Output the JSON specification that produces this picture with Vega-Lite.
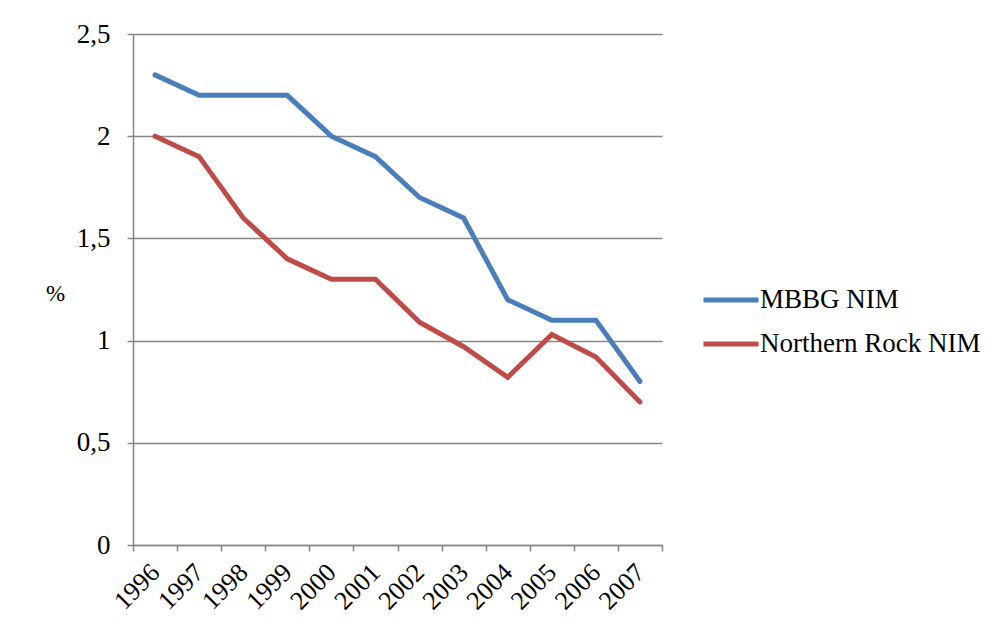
{
  "$schema": "https://vega.github.io/schema/vega-lite/v6.json",
  "width": 529,
  "height": 511,
  "autosize": {"type": "none"},
  "padding": {"left": 133, "top": 34, "right": 337, "bottom": 88},
  "background": "white",
  "config": {
    "view": {"stroke": null},
    "font": "Liberation Serif"
  },
  "data": {
    "values": [
      {"year": "1996", "series": "MBBG NIM", "value": 2.3},
      {"year": "1997", "series": "MBBG NIM", "value": 2.2},
      {"year": "1998", "series": "MBBG NIM", "value": 2.2},
      {"year": "1999", "series": "MBBG NIM", "value": 2.2},
      {"year": "2000", "series": "MBBG NIM", "value": 2.0},
      {"year": "2001", "series": "MBBG NIM", "value": 1.9},
      {"year": "2002", "series": "MBBG NIM", "value": 1.7},
      {"year": "2003", "series": "MBBG NIM", "value": 1.6},
      {"year": "2004", "series": "MBBG NIM", "value": 1.2},
      {"year": "2005", "series": "MBBG NIM", "value": 1.1},
      {"year": "2006", "series": "MBBG NIM", "value": 1.1},
      {"year": "2007", "series": "MBBG NIM", "value": 0.8},
      {"year": "1996", "series": "Northern Rock NIM", "value": 2.0},
      {"year": "1997", "series": "Northern Rock NIM", "value": 1.9},
      {"year": "1998", "series": "Northern Rock NIM", "value": 1.6},
      {"year": "1999", "series": "Northern Rock NIM", "value": 1.4},
      {"year": "2000", "series": "Northern Rock NIM", "value": 1.3},
      {"year": "2001", "series": "Northern Rock NIM", "value": 1.3},
      {"year": "2002", "series": "Northern Rock NIM", "value": 1.09},
      {"year": "2003", "series": "Northern Rock NIM", "value": 0.97},
      {"year": "2004", "series": "Northern Rock NIM", "value": 0.82},
      {"year": "2005", "series": "Northern Rock NIM", "value": 1.03},
      {"year": "2006", "series": "Northern Rock NIM", "value": 0.92},
      {"year": "2007", "series": "Northern Rock NIM", "value": 0.70}
    ]
  },
  "mark": {"type": "line", "strokeWidth": 5, "strokeCap": "round", "strokeJoin": "miter"},
  "encoding": {
    "x": {
      "field": "year",
      "type": "ordinal",
      "scale": {"type": "band", "paddingInner": 0, "paddingOuter": 0},
      "axis": {
        "title": null,
        "tickBand": "extent",
        "grid": false,
        "domainColor": "#868686",
        "domainWidth": 1.5,
        "tickColor": "#868686",
        "tickWidth": 1.5,
        "tickSize": 6,
        "labelAngle": -45,
        "labelAlign": "right",
        "labelBaseline": "middle",
        "labelPadding": 17,
        "labelFont": "Liberation Serif",
        "labelFontSize": 26,
        "labelColor": "black"
      }
    },
    "y": {
      "field": "value",
      "type": "quantitative",
      "scale": {"domain": [0, 2.5], "nice": false, "zero": true},
      "axis": {
        "values": [0, 0.5, 1, 1.5, 2, 2.5],
        "labelExpr": "replace(format(datum.value, '~g'), '.', ',')",
        "grid": true,
        "gridColor": "#868686",
        "gridWidth": 1.5,
        "domainColor": "#868686",
        "domainWidth": 1.5,
        "tickColor": "#868686",
        "tickWidth": 1.5,
        "tickSize": 6,
        "labelPadding": 17,
        "labelFont": "Liberation Serif",
        "labelFontSize": 27,
        "labelColor": "black",
        "title": "%",
        "titleAngle": 0,
        "titleFont": "Liberation Serif",
        "titleFontSize": 23,
        "titleFontWeight": "normal",
        "titleColor": "black",
        "titleX": -78,
        "titleY": 266,
        "titleAlign": "center",
        "titleBaseline": "alphabetic"
      }
    },
    "color": {
      "field": "series",
      "type": "nominal",
      "scale": {"domain": ["MBBG NIM", "Northern Rock NIM"], "range": ["#4a7ebb", "#be4b48"]},
      "legend": {
        "title": null,
        "orient": "none",
        "legendX": 568,
        "legendY": 236,
        "symbolType": "stroke",
        "symbolSize": 3025,
        "symbolStrokeWidth": 5,
        "labelFont": "Liberation Serif",
        "labelFontSize": 27,
        "labelColor": "black",
        "labelOffset": -1,
        "labelLimit": 400,
        "rowPadding": 1
      }
    }
  }
}
